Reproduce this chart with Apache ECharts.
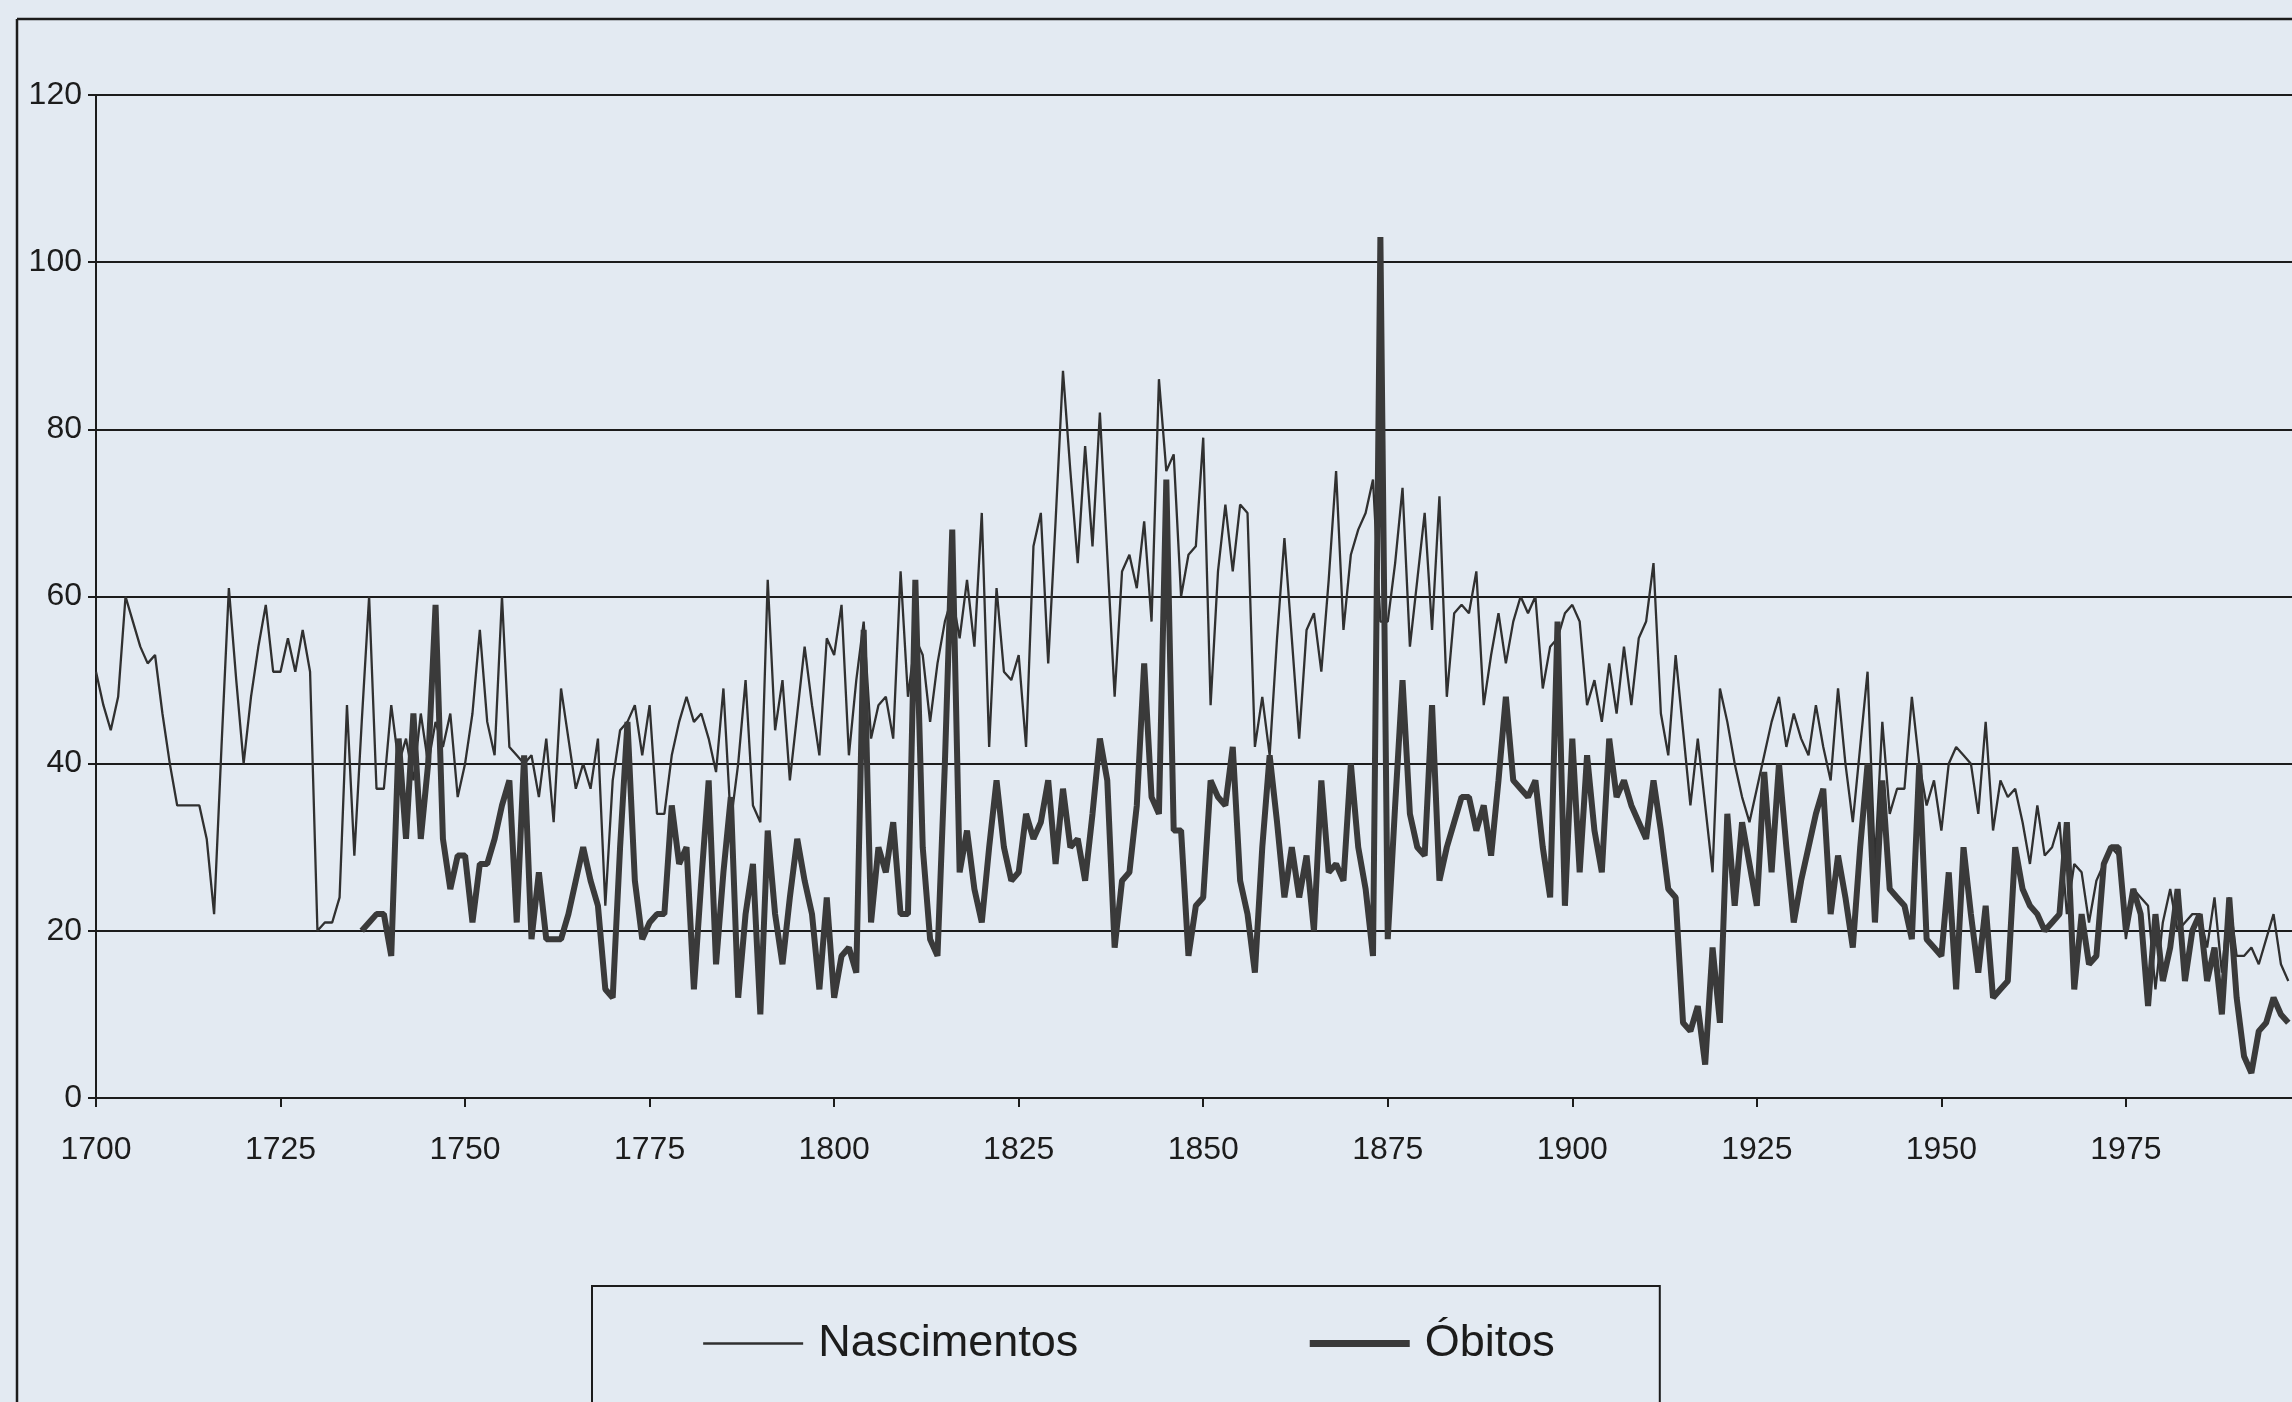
<!DOCTYPE html>
<html><head><meta charset="utf-8">
<script src="https://cdn.jsdelivr.net/npm/echarts@6.0.0/dist/echarts.min.js"></script>
<style>html,body{margin:0;padding:0;background:#e3eaf2;}#chart{width:2292px;height:1402px;}</style>
</head><body><div id="chart"></div>
<script>
const nascStart = 1700;
const nascimentos = [
  51,47,44,48,60,57,54,52,53,46,
  40,35,35,35,35,31,22,42,61,50,
  40,48,54,59,51,51,55,51,56,51,
  20,21,21,24,47,29,45,60,37,37,
  47,40,43,38,46,40,45,42,46,36,
  40,46,56,45,41,60,42,41,40,41,
  36,43,33,49,43,37,40,37,43,23,
  38,44,45,47,41,47,34,34,41,45,
  48,45,46,43,39,49,33,40,50,35,
  33,62,44,50,38,46,54,47,41,55,
  53,59,41,50,57,43,47,48,43,63,
  48,55,53,45,52,57,60,55,62,54,
  70,42,61,51,50,53,42,66,70,52,
  69,87,75,64,78,66,82,65,48,63,
  65,61,69,57,86,75,77,60,65,66,
  79,47,63,71,63,71,70,42,48,41,
  55,67,55,43,56,58,51,62,75,56,
  65,68,70,74,57,57,64,73,54,62,
  70,56,72,48,58,59,58,63,47,53,
  58,52,57,60,58,60,49,54,55,58,
  59,57,47,50,45,52,46,54,47,55,
  57,64,46,41,53,44,35,43,35,27,
  49,45,40,36,33,37,41,45,48,42,
  46,43,41,47,42,38,49,40,33,42,
  51,28,45,34,37,37,48,40,35,38,
  32,40,42,41,40,34,45,32,38,36,
  37,33,28,35,29,30,33,22,28,27,
  21,26,28,30,29,19,25,24,23,13,
  21,25,20,21,22,22,18,24,15,24,
  17,17,18,16,19,22,16,14
];
const obitosStart = 1736;
const obitos = [
  20,21,22,22,
  17,43,31,46,31,40,59,31,25,29,
  29,21,28,28,31,35,38,21,41,19,
  27,19,19,19,22,26,30,26,23,13,
  12,30,45,26,19,21,22,22,35,28,
  30,13,26,38,16,27,36,12,22,28,
  10,32,22,16,24,31,26,22,13,24,
  12,17,18,15,56,21,30,27,33,22,
  22,62,30,19,17,40,68,27,32,25,
  21,30,38,30,26,27,34,31,33,38,
  28,37,30,31,26,34,43,38,18,26,
  27,35,52,36,34,74,32,32,17,23,
  24,38,36,35,42,26,22,15,30,41,
  33,24,30,24,29,20,38,27,28,26,
  40,30,25,17,103,19,35,50,34,30,
  29,47,26,30,33,36,36,32,35,29,
  38,48,38,37,36,38,30,24,57,23,
  43,27,41,32,27,43,36,38,35,33,
  31,38,32,25,24,9,8,11,4,18,
  9,34,23,33,28,23,39,27,40,30,
  21,26,30,34,37,22,29,24,18,30,
  40,21,38,25,24,23,19,40,19,18,
  17,27,13,30,22,15,23,12,13,14,
  30,25,23,22,20,21,22,33,13,22,
  16,17,28,30,30,20,25,22,11,22,
  14,18,25,14,20,22,14,18,10,24,
  12,5,3,8,9,12,10,9
];
const seriesNames = ['Nascimentos', 'Óbitos'];
const xMin = 1700, xMax = 1997.5, xStep = 25;
const yMin = 0, yMax = 120, yStep = 20;

const toPairs = (start, arr) => arr.map((v, i) => [start + i, v]);
const bg = '#e3eaf2';
const ink = '#1c1c1c';
const thinColor = '#303030';
const thickColor = '#3a3a3a';
const thinWidth = 2.3, thickWidth = 6;
const font = 'Liberation Sans';

const chart = echarts.init(document.getElementById('chart'));
chart.setOption({
  animation: false,
  backgroundColor: bg,
  grid: { left: 96, right: 0, top: 95, bottom: 304 },
  xAxis: {
    type: 'value', min: xMin, max: xMax, interval: xStep,
    axisLine: { show: true, onZero: false, lineStyle: { color: ink, width: 2 } },
    axisTick: { show: true, length: 9, lineStyle: { color: ink, width: 2 } },
    axisLabel: { fontSize: 32, color: ink, fontFamily: font, margin: 36, showMaxLabel: false,
      formatter: v => String(v) },
    splitLine: { show: false }
  },
  yAxis: {
    type: 'value', min: yMin, max: yMax, interval: yStep,
    axisLine: { show: true, lineStyle: { color: ink, width: 2 } },
    axisTick: { show: true, length: 8, lineStyle: { color: ink, width: 2 } },
    axisLabel: { fontSize: 32, color: ink, fontFamily: font, margin: 14 },
    splitLine: { show: true, lineStyle: { color: ink, width: 2 } }
  },
  legend: {
    data: [
      { name: seriesNames[0], itemStyle: { color: 'transparent', borderWidth: 0, opacity: 0 },
        lineStyle: { color: thinColor, width: thinWidth } },
      { name: seriesNames[1], itemStyle: { color: 'transparent', borderWidth: 0, opacity: 0 },
        lineStyle: { color: thickColor, width: thickWidth + 1 } }
    ],
    left: 592, top: 1286,
    padding: [35, 105, 60, 110],
    itemGap: 228, itemWidth: 100, itemHeight: 14,
    borderColor: ink, borderWidth: 2, backgroundColor: bg,
    textStyle: { fontSize: 45, color: ink, fontFamily: font, padding: [0, 0, 0, 10] }
  },
  graphic: [
    { type: 'line', shape: { x1: 17, y1: 19, x2: 2292, y2: 19 }, style: { stroke: ink, lineWidth: 2.5 } },
    { type: 'line', shape: { x1: 17, y1: 19, x2: 17, y2: 1402 }, style: { stroke: ink, lineWidth: 2.5 } }
  ],
  series: [
    { name: seriesNames[0], type: 'line', data: toPairs(nascStart, nascimentos), symbol: 'none',
      itemStyle: { color: thinColor }, lineStyle: { color: thinColor, width: thinWidth }, z: 2 },
    { name: seriesNames[1], type: 'line', data: toPairs(obitosStart, obitos), symbol: 'none',
      itemStyle: { color: thickColor }, lineStyle: { color: thickColor, width: thickWidth }, z: 3 }
  ]
});
</script>
</body></html>
